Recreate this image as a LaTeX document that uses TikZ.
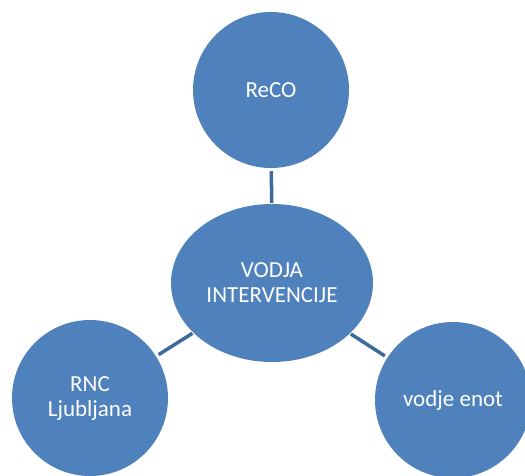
\documentclass[tikz,border=0pt]{standalone}
\usepackage{fontspec}
\setmainfont{Carlito}
\usepackage{tikz}
\usetikzlibrary{shapes.geometric}
\definecolor{bubble}{HTML}{4F81BD}
\definecolor{link}{HTML}{3D6A9C}

\begin{document}
\begin{tikzpicture}[x=1pt,y=-1pt,
  bubble/.style={circle,fill=bubble,text=white,minimum size=156pt,inner sep=0pt,align=center,font=\fontsize{23}{25}\selectfont},
  hub/.style={ellipse,fill=bubble,text=white,minimum width=202pt,minimum height=158pt,inner sep=0pt,align=center,font=\fontsize{23}{25}\selectfont},
  link/.style={draw=link,line width=3.5pt,shorten <=1pt,shorten >=3pt}]
\useasboundingbox (0,0) rectangle (525,475);

\node[hub] (vodja) at (272,283) {VODJA\\INTERVENCIJE};

\node[bubble] (reco) at (271,90) {ReCO};

\node[bubble] (rnc) at (90,398) {RNC\\Ljubljana};

\node[bubble] (enote) at (453,400) {vodje enot};

\draw[link] (vodja) -- (reco);
\draw[link] (vodja) -- (rnc);
\draw[link] (vodja) -- (enote);
\end{tikzpicture}
\end{document}
